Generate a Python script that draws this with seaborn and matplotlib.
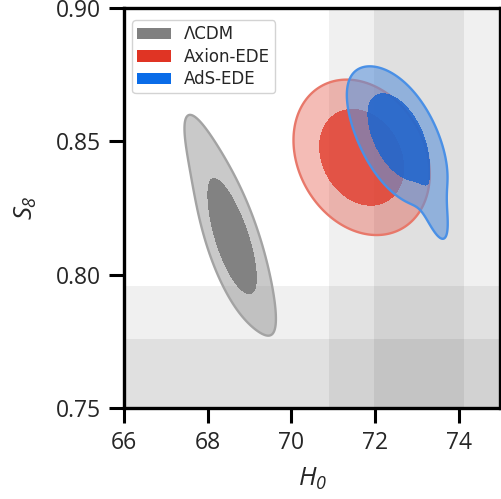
import numpy as np
import matplotlib
matplotlib.use("Agg")
import matplotlib.pyplot as plt
import seaborn as sns
from matplotlib.patches import Patch

# ---------------- data ----------------
H0_LIM = [66, 75]
S8_LIM = [0.75, 0.90]
H0_TICKS = [66, 68, 70, 72, 74]
S8_TICKS = [0.75, 0.80, 0.85, 0.90]

# external measurements: (mean, sigma)
SH0ES_H0 = [73.05, 1.07]
LENSING_S8 = [0.756, 0.0198]

model_labels = ["ΛCDM", "Axion-EDE", "AdS-EDE"]

# posterior approximations: (H0 mean, S8 mean, sigma H0, sigma S8, corr, weight)
lcdm_components = [
    (68.58, 0.8130, 0.33, 0.0120, -0.66, 0.68),
    (68.52, 0.8195, 0.57, 0.0215, -0.88, 0.32),
]
axion_components = [
    (71.68, 0.8440, 0.665, 0.0119, -0.22, 1.0),
]
ads_components = [
    (72.56, 0.8515, 0.42, 0.0098, -0.45, 0.62),
    (72.50, 0.8525, 0.60, 0.0125, -0.65, 0.28),
    (73.35, 0.8290, 0.24, 0.0100, -0.72, 0.05),
]
contour_masses = [0.95, 0.68]

# ---------------- style ----------------
sns.set_style("white")
plt.rcParams["font.family"] = ["Open Sans", "DejaVu Sans"]
plt.rcParams["mathtext.fontset"] = "custom"
plt.rcParams["mathtext.it"] = "Open Sans:italic"
plt.rcParams["mathtext.rm"] = "Open Sans:italic"


def mixture_density(components, X, Y):
    Z = np.zeros_like(X)
    for mx, my, sx, sy, rho, w in components:
        dx = (X - mx) / sx
        dy = (Y - my) / sy
        q = (dx ** 2 - 2 * rho * dx * dy + dy ** 2) / (1 - rho ** 2)
        Z += w * np.exp(-0.5 * q) / (2 * np.pi * sx * sy * np.sqrt(1 - rho ** 2))
    return Z


def mass_levels(Z, masses):
    flat = np.sort(Z.ravel())[::-1]
    cum = np.cumsum(flat)
    cum /= cum[-1]
    return [flat[min(np.searchsorted(cum, m), flat.size - 1)] for m in masses]


xg = np.linspace(62, 79, 700)
yg = np.linspace(0.68, 0.97, 700)
X, Y = np.meshgrid(xg, yg)

fig = plt.figure(figsize=(5.02, 4.99), dpi=100)
ax = fig.add_axes([124 / 502, 1 - 408 / 499, (500.5 - 124) / 502, 400 / 499])

# measurement bands
m, s = SH0ES_H0
ax.axvspan(m - 2 * s, m + 2 * s, color="black", alpha=0.058, lw=0, zorder=0)
ax.axvspan(m - s, m + s, color="black", alpha=0.066, lw=0, zorder=0)
m, s = LENSING_S8
ax.axhspan(m - 2 * s, m + 2 * s, color="black", alpha=0.058, lw=0, zorder=0)
ax.axhspan(m - s, m + s, color="black", alpha=0.066, lw=0, zorder=0)

styles = [
    dict(comp=lcdm_components, outer=(0.5, 0.5, 0.5), oa=0.42, inner=(0.5, 0.5, 0.5), ia=0.97,
         edge="#a3a3a3", legend="#808080"),
    dict(comp=axion_components, outer=(224 / 255, 52 / 255, 36 / 255), oa=0.33,
         inner=(224 / 255, 52 / 255, 36 / 255), ia=0.75, edge="#e8786a", legend="#e03424"),
    dict(comp=ads_components, outer=(93 / 255, 147 / 255, 217 / 255), oa=0.6,
         inner=(30 / 255, 100 / 255, 205 / 255), ia=0.85, edge="#4a90e6", legend="#0a6ce8"),
]

for i, st in enumerate(styles):
    Z = mixture_density(st["comp"], X, Y)
    t95, t68 = mass_levels(Z, contour_masses)
    z = 2 + 3 * i
    ax.contourf(X, Y, Z, levels=[t95, Z.max() * 2], colors=[st["outer"]], alpha=st["oa"], zorder=z)
    ax.contourf(X, Y, Z, levels=[t68, Z.max() * 2], colors=[st["inner"]], alpha=st["ia"], zorder=z + 1)
    ax.contour(X, Y, Z, levels=[t95], colors=[st["edge"]], linewidths=1.7, zorder=z + 2)

ax.set_xlim(H0_LIM)
ax.set_ylim(S8_LIM)
ax.set_xticks(H0_TICKS)
ax.set_yticks(S8_TICKS)
ax.set_xticklabels([f"{t:d}" for t in H0_TICKS])
ax.set_yticklabels([f"{t:.2f}" for t in S8_TICKS])
ax.tick_params(axis="both", direction="out", length=10.5, width=2.2, pad=6,
               labelsize=16.5, color="black", bottom=True, left=True)
for sp in ax.spines.values():
    sp.set_linewidth(2.4)
    sp.set_color("black")
    sp.set_zorder(20)

ax.set_xlabel(r"$H_0$", fontsize=18.5, labelpad=8)
ax.set_ylabel(r"$S_8$", fontsize=18.5, labelpad=12)

handles = [Patch(facecolor=st["legend"], edgecolor="none") for st in styles]
leg = ax.legend(handles, model_labels, loc="upper left", prop={"family": "DejaVu Sans", "size": 12},
                frameon=True, fancybox=True, edgecolor="#cccccc", framealpha=0.85,
                handlelength=2.0, handleheight=0.7, labelspacing=0.27, borderpad=0.3,
                handletextpad=0.8, borderaxespad=0.5, bbox_to_anchor=(0.0, 0.99))
leg.set_zorder(30)

fig.savefig("out.png", dpi=100)
